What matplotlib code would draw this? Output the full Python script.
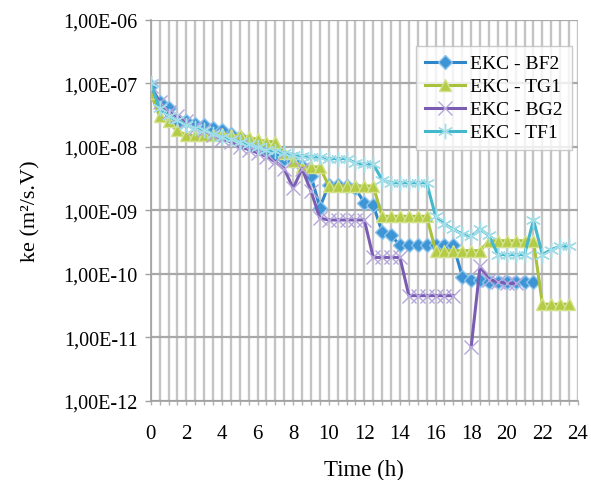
import numpy as np
import matplotlib
matplotlib.use('Agg')
import matplotlib.pyplot as plt
from matplotlib.ticker import FixedLocator, MultipleLocator, FuncFormatter, NullLocator

nan = np.nan

# sampling times (h)
hours = [0.0, 0.5, 1.0, 1.5, 2.0, 2.5, 3.0, 3.5, 4.0, 4.5, 5.0, 5.5,
         6.0, 6.5, 7.0, 7.5, 8.0, 8.5, 9.0, 9.5, 10.0, 10.5, 11.0, 11.5,
         12.0, 12.5, 13.0, 13.5, 14.0, 14.5, 15.0, 15.5, 16.0, 16.5, 17.0, 17.5,
         18.0, 18.5, 19.0, 19.5, 20.0, 20.5, 21.0, 21.5, 22.0, 22.5, 23.0, 23.5]

# electrokinetic coefficient ke (m2/s.V)
ke_bf2 = [9e-8, 5e-8, 4e-8, 2.2e-8, 2.5e-8, 2.3e-8, 2.2e-8, 2e-8, 1.8e-8, 1.6e-8, 1.4e-8, 1.2e-8,
          1.0e-8, 9e-9, 7.5e-9, 6.5e-9, 6e-9, 5e-9, 3.5e-9, 1.1e-9, 2.5e-9, 2.5e-9, 2.4e-9, 2.2e-9,
          1.3e-9, 1.2e-9, 4.5e-10, 4e-10, 2.8e-10, 2.8e-10, 2.8e-10, 2.8e-10, 2.8e-10, 2.8e-10, 2.8e-10, 9e-11,
          8e-11, 8e-11, 7.5e-11, 7.5e-11, 7.5e-11, 7.5e-11, 7.5e-11, 7.5e-11, nan, nan, nan, nan]

ke_tg1 = [7e-8, 3e-8, 2.5e-8, 1.8e-8, 1.5e-8, 1.5e-8, 1.5e-8, 1.5e-8, 1.6e-8, 1.5e-8, 1.5e-8, 1.4e-8,
          1.3e-8, 1.2e-8, 1.2e-8, 8e-9, 6e-9, 4.8e-9, 4.8e-9, 4.8e-9, 2.4e-9, 2.4e-9, 2.4e-9, 2.4e-9,
          2.4e-9, 2.4e-9, 8e-10, 8e-10, 8e-10, 8e-10, 8e-10, 8e-10, 2.3e-10, 2.3e-10, 2.3e-10, 2.3e-10,
          2.3e-10, 2.3e-10, 3.3e-10, 3.3e-10, 3.3e-10, 3.3e-10, 3.3e-10, 3.3e-10, 3.3e-11, 3.3e-11, 3.3e-11, 3.3e-11]

ke_bg2 = [9e-8, 5e-8, 3.5e-8, 3e-8, 2.5e-8, 2e-8, 1.8e-8, 1.5e-8, 1.3e-8, 1.2e-8, 1.0e-8, 9e-9,
          8e-9, 7e-9, 5.8e-9, 4.5e-9, 2.2e-9, 4.5e-9, 2e-9, 7.5e-10, 7e-10, 7e-10, 7e-10, 7e-10,
          7e-10, 1.8e-10, 1.8e-10, 1.8e-10, 1.8e-10, 4.5e-11, 4.5e-11, 4.5e-11, 4.5e-11, 4.5e-11, 4.5e-11, nan,
          7e-12, 1.3e-10, 8e-11, 7.5e-11, 7e-11, 7e-11, nan, nan, nan, nan, nan, nan]

ke_tf1 = [1e-7, 4e-8, 3e-8, 2.6e-8, 2.2e-8, 2e-8, 1.8e-8, 1.6e-8, 1.4e-8, 1.3e-8, 1.2e-8, 1.1e-8,
          1e-8, 9e-9, 8.5e-9, 8e-9, 7.5e-9, 7.2e-9, 7e-9, 6.8e-9, 6.5e-9, 6.5e-9, 6.5e-9, 5.5e-9,
          5.3e-9, 5.3e-9, 3e-9, 2.7e-9, 2.7e-9, 2.7e-9, 2.7e-9, 2.7e-9, 8e-10, 6e-10, 5e-10, 4.2e-10,
          3.9e-10, 5e-10, 4e-10, 2e-10, 2e-10, 2e-10, 2e-10, 7e-10, 2e-10, 2.4e-10, 2.7e-10, 2.7e-10]

series = [
    ('EKC - BF2', ke_bf2, '#2f86c9', dict(marker='D', ms=7, mfc='#3d95d6', mec='#8cc3ea', mew=1.0)),
    ('EKC - TG1', ke_tg1, '#a9c23c', dict(marker='^', ms=9, mfc='#b4cb45', mec='#d4e28d', mew=1.0)),
    ('EKC - BG2', ke_bg2, '#7a5db3', dict(marker='x', ms=10, mfc='#b5a6dc', mec='#b5a6dc', mew=1.0)),
    ('EKC - TF1', ke_tf1, '#44b8cd', dict(marker=(6, 2, 0), ms=11, mfc='#a3dde8', mec='#a3dde8', mew=1.0)),
]

plt.rcParams['font.family'] = ['Liberation Serif', 'DejaVu Serif']

fig = plt.figure(figsize=(5.91, 4.81), dpi=100)
ax = fig.add_axes([0.255, 0.165, 0.723, 0.792])

for name, vals, col, mk in series:
    ax.plot(hours, vals, color=col, lw=2.2, label=name, zorder=3, **mk)

ax.set_yscale('log')
ax.set_ylim(1e-12, 1e-6)
ax.set_xlim(0, 24)

ax.yaxis.set_major_locator(FixedLocator([1e-12, 1e-11, 1e-10, 1e-9, 1e-8, 1e-7, 1e-6]))
ax.yaxis.set_minor_locator(NullLocator())
ax.yaxis.set_major_formatter(FuncFormatter(lambda v, p: '{:.2E}'.format(v).replace('.', ',')))
ax.xaxis.set_major_locator(MultipleLocator(2))
ax.xaxis.set_minor_locator(MultipleLocator(0.5))

ax.grid(True, axis='x', which='both', color='#c4c4c4', lw=1.7, zorder=0)
ax.grid(True, axis='y', which='major', color='#a8a8a8', lw=1.6, zorder=0)
ax.set_axisbelow(True)

for side in ['top', 'right']:
    ax.spines[side].set_visible(False)
for side in ['left', 'bottom']:
    ax.spines[side].set_color('#a0a0a0')
    ax.spines[side].set_linewidth(1.2)

ax.tick_params(axis='y', which='major', length=4.5, width=1, color='#a0a0a0',
               labelsize=14.5, pad=5)
ax.tick_params(axis='x', which='both', length=3, width=1, color='#b0b0b0',
               labelsize=15, pad=14)

ax.set_xlabel('Time (h)', fontsize=16.5, labelpad=11)
ax.set_ylabel('ke (m²/s.V)', fontsize=16, labelpad=16)

leg = ax.legend(loc='upper right', bbox_to_anchor=(0.985, 0.931), borderaxespad=0,
                fontsize=14, frameon=True, fancybox=False, handlelength=2.1,
                handletextpad=0.25, labelspacing=0.28, borderpad=0.45)
leg.get_frame().set_edgecolor('#bfbfbf')
leg.get_frame().set_linewidth(1.0)

fig.savefig('out.png', dpi=100)
